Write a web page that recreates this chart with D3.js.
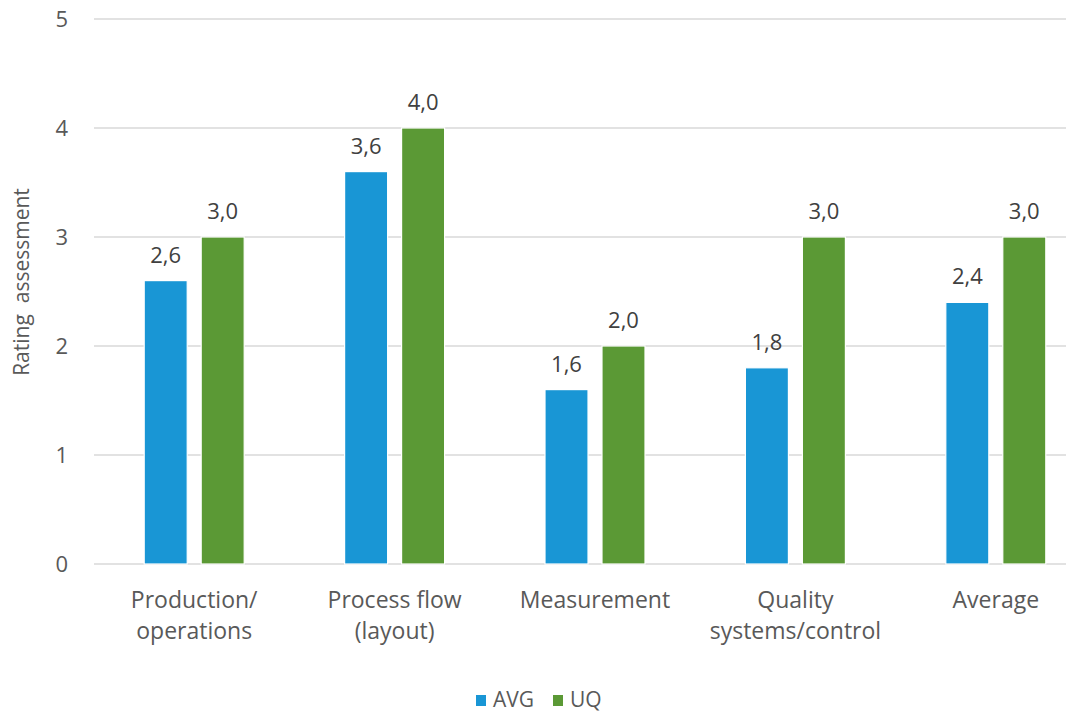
<!DOCTYPE html>
<html>
<head>
<meta charset="utf-8">
<script src="https://cdn.jsdelivr.net/npm/d3@7"></script>
<style>
  html, body { margin: 0; padding: 0; background: #fff; }
  svg { display: block; font-family: "Open Sans", "Noto Sans", sans-serif; }
</style>
</head>
<body>
<svg id="chart" width="1066" height="712"></svg>
<script>
// Rating assessment per area
const categories = [["Production/", "operations"], ["Process flow", "(layout)"], ["Measurement"], ["Quality", "systems/control"], ["Average"]];
const seriesNames = ["AVG", "UQ"];
const avgValues = [2.6, 3.6, 1.6, 1.8, 2.4];
const uqValues = [3.0, 4.0, 2.0, 3.0, 3.0];
const yTicks = [0, 1, 2, 3, 4, 5];
const colors = ["#1996d5", "#5b9935"];

const svg = d3.select("#chart");
const W = 1066, H = 712;
const plot = { left: 94, right: 1096, top: 19, bottom: 564 };

// one slot per category; the plot runs a little past the right edge
const x0 = d3.scaleBand()
  .domain(d3.range(categories.length))
  .range([plot.left, plot.right]);
const groupW = 100;
const groupX = i => x0(i) + (x0.bandwidth() - groupW) / 2;

const x1 = d3.scaleBand()
  .domain(seriesNames)
  .range([0, groupW])
  .paddingInner(0.245);

const y = d3.scaleLinear().domain([0, 5]).range([plot.bottom, plot.top]);

// gridlines
svg.append("g")
  .selectAll("line")
  .data(yTicks)
  .join("line")
  .attr("x1", plot.left)
  .attr("x2", W)
  .attr("y1", d => y(d))
  .attr("y2", d => y(d))
  .attr("stroke", "#d9d9d9")
  .attr("stroke-width", 1.5);

// y tick labels
svg.append("g")
  .selectAll("text")
  .data(yTicks)
  .join("text")
  .attr("x", 68)
  .attr("y", d => y(d))
  .attr("dy", "0.36em")
  .attr("text-anchor", "end")
  .attr("font-size", 22)
  .attr("fill", "#595959")
  .text(d => d);

// y axis title
svg.append("text")
  .attr("transform", `translate(29,282) rotate(-90)`)
  .attr("text-anchor", "middle")
  .attr("font-size", 21)
  .attr("fill", "#595959")
  .style("white-space", "pre")
  .text("Rating  assessment");

const seriesValues = [avgValues, uqValues];

// bars
const groups = svg.append("g")
  .selectAll("g")
  .data(categories)
  .join("g")
  .attr("transform", (d, i) => `translate(${groupX(i)},0)`);

groups.each(function (cat, i) {
  const g = d3.select(this);
  seriesNames.forEach((s, k) => {
    const v = seriesValues[k][i];
    g.append("rect")
      .attr("x", x1(s))
      .attr("y", y(v))
      .attr("width", x1.bandwidth())
      .attr("height", y(0) - y(v))
      .attr("fill", colors[k])
      .attr("stroke", "#ffffff")
      .attr("stroke-width", 1.2);
    g.append("text")
      .attr("x", x1(s) + x1.bandwidth() / 2)
      .attr("y", y(v) - 18)
      .attr("text-anchor", "middle")
      .attr("font-size", 22)
      .attr("fill", "#404040")
      .text(d3.format(".1f")(v).replace(".", ","));
  });
  // category labels
  const t = g.append("text")
    .attr("text-anchor", "middle")
    .attr("font-size", 23)
    .attr("fill", "#595959");
  cat.forEach((line, j) => {
    t.append("tspan")
      .attr("x", groupW / 2)
      .attr("y", 608 + j * 31)
      .text(line);
  });
});

// legend
const legend = svg.append("g").attr("transform", "translate(476,695)");
const legendItems = [{ name: seriesNames[0], x: 0 }, { name: seriesNames[1], x: 77 }];
legendItems.forEach((it, k) => {
  legend.append("rect")
    .attr("x", it.x).attr("y", 0)
    .attr("width", 10).attr("height", 11)
    .attr("fill", colors[k]);
  legend.append("text")
    .attr("x", it.x + 17).attr("y", 12)
    .attr("font-size", 21)
    .attr("fill", "#595959")
    .text(it.name);
});
</script>
</body>
</html>
